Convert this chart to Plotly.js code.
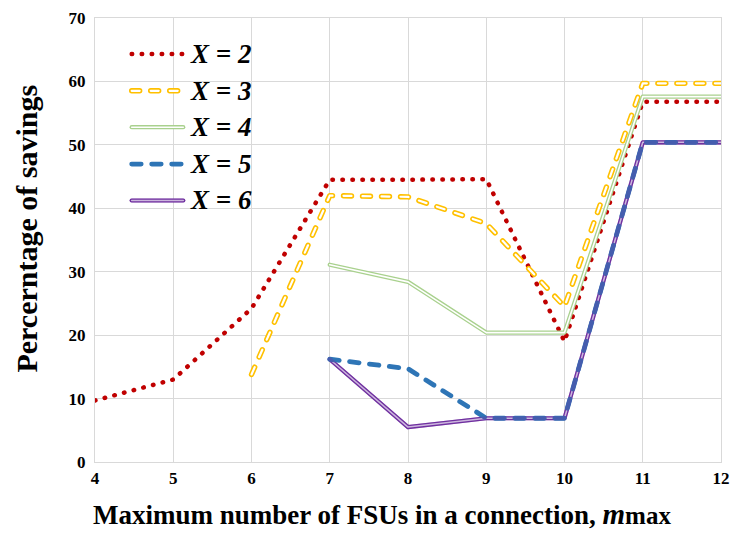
<!DOCTYPE html>
<html>
<head>
<meta charset="utf-8">
<script src="https://cdn.plot.ly/plotly-3.0.1.min.js"></script>
<style>
  html, body { margin: 0; padding: 0; background: #ffffff; }
  #chart { width: 734px; height: 533px; }
  /* rounded dash ends give the dotted / pill-shaped dash look */
  #chart .js-line, #chart .shapelayer path {
    stroke-linecap: round !important;
    stroke-linejoin: round !important;
  }
</style>
</head>
<body>
<div id="chart"></div>
<script>
// Maximum number of FSUs in a connection (x categories)
const mMax = [4, 5, 6, 7, 8, 9, 10, 11, 12];

// Percentage of savings for each X
const savingsX2 = [9.7, 13.0, 24.2, 44.5, 44.5, 44.6, 19.0, 56.8, 56.8];
const savingsX3 = [null, null, 13.8, 42.0, 41.8, 37.6, 24.5, 59.7, 59.7];
const savingsX4 = [null, null, null, 31.1, 28.4, 20.4, 20.4, 57.6, 57.6];
const savingsX5 = [null, null, null, 16.2, 14.7, 6.9, 6.9, 50.4, 50.4];
const savingsX6 = [null, null, null, 16.2, 5.5, 6.9, 6.9, 50.4, 50.4];

const seriesLabels = ['X = 2', 'X = 3', 'X = 4', 'X = 5', 'X = 6'];
const yTicks = [0, 10, 20, 30, 40, 50, 60, 70];

const SERIF = '"Liberation Serif", "Times New Roman", Times, serif';

const RED = '#C00000', YELLOW = '#FFC000', GREEN = '#A9D18E',
      BLUE = '#2E75B6', PURPLE = '#7030A0';

const DOT = '0.5px,9.5px';
const PILL = '8px,11px';
const DASH = '9.5px,10.5px';

function line(y, color, width, dash, opacity) {
  return {
    x: mMax, y: y, type: 'scatter', mode: 'lines',
    connectgaps: false, hoverinfo: 'skip', showlegend: false,
    opacity: opacity === undefined ? 1 : opacity,
    line: { color: color, width: width, dash: dash || 'solid' }
  };
}

// each style: list of [color, width, dash, opacity] layers, drawn bottom to top
const styles = [
  [[RED, 4.5, DOT]],
  [[YELLOW, 5.4, PILL], ['#ffffff', 2.2, PILL]],
  [[GREEN, 4.2, 'solid'], ['#ffffff', 1.6, 'solid']],
  [[BLUE, 4.8, DASH]],
  [[PURPLE, 4.2, 'solid'], ['#ffffff', 1.5, 'solid']]
];
const seriesData = [savingsX2, savingsX3, savingsX4, savingsX5, savingsX6];

const traces = [];
// X = 2, 3, 4
for (let i = 0; i < 3; i++) {
  styles[i].forEach(s => traces.push(line(seriesData[i], s[0], s[1], s[2])));
}
// X = 6 double line, the X = 5 dashes, then a purple tint over both
styles[4].forEach(s => traces.push(line(seriesData[4], s[0], s[1], s[2])));
styles[3].forEach(s => traces.push(line(seriesData[3], s[0], s[1], s[2])));
traces.push(line(seriesData[4], PURPLE, 4.2, 'solid', 0.35));

// hand-built legend: sample line shapes plus labels
const legendRowsY = [0.919, 0.836, 0.754, 0.671, 0.589];
const legendX0 = 0.0586, legendX1 = 0.141, legendTextX = 0.1485;
const shapes = [];
const annotations = [];
seriesLabels.forEach((lab, i) => {
  const layers = styles[i].slice();
  if (i === 4) layers.push([PURPLE, 4.2, 'solid', 0.35]);
  layers.forEach(s => shapes.push({
    type: 'line', xref: 'paper', yref: 'paper',
    x0: legendX0, x1: legendX1, y0: legendRowsY[i], y1: legendRowsY[i],
    opacity: s[3] === undefined ? 1 : s[3],
    line: { color: s[0], width: s[1], dash: s[2] }
  }));
  annotations.push({
    xref: 'paper', yref: 'paper', x: legendTextX, y: legendRowsY[i],
    xanchor: 'left', yanchor: 'middle', showarrow: false,
    text: '<b><i>' + lab + '</i></b>',
    font: { family: SERIF, size: 27, color: '#000000' }
  });
});

// axis titles
annotations.push({
  xref: 'paper', yref: 'paper', x: -0.0064, y: -0.118,
  xanchor: 'left', yanchor: 'middle', showarrow: false,
  text: '<b>Maximum number of FSUs in a connection, </b>' +
        '<b><i><span style="font-size:29px">m</span></i></b>' +
        '<b><span style="font-size:25px">max</span></b>',
  font: { family: SERIF, size: 27, color: '#000000' }
});
annotations.push({
  xref: 'paper', yref: 'paper', x: -0.11, y: 0.526,
  xanchor: 'center', yanchor: 'middle', showarrow: false, textangle: -90,
  text: '<b>Percerntage of savings</b>',
  font: { family: SERIF, size: 30, color: '#000000' }
});

const tickFont = { family: SERIF, size: 17, color: '#000000', weight: 'bold' };
const gridColor = '#d9d9d9';

const layout = {
  width: 734, height: 533,
  margin: { l: 95, r: 13, t: 18, b: 71, pad: 0 },
  paper_bgcolor: '#ffffff', plot_bgcolor: '#ffffff',
  showlegend: false,
  font: { family: SERIF, color: '#000000' },
  xaxis: {
    range: [4, 12], tickvals: mMax, ticktext: mMax.map(v => '<b>' + v + '</b>'),
    showgrid: true, gridcolor: gridColor, gridwidth: 1,
    zeroline: false, showline: true, linecolor: gridColor, linewidth: 1, mirror: true,
    ticks: 'outside', ticklen: 1, tickcolor: 'rgba(0,0,0,0)',
    tickfont: tickFont, fixedrange: true
  },
  yaxis: {
    range: [0, 70], tickvals: yTicks,
    ticktext: yTicks.map(v => '<b>' + v + '</b>'),
    showgrid: true, gridcolor: gridColor, gridwidth: 1,
    zeroline: false, showline: true, linecolor: gridColor, linewidth: 1, mirror: true,
    ticks: 'outside', ticklen: 5, tickcolor: 'rgba(0,0,0,0)',
    tickfont: tickFont, fixedrange: true
  },
  shapes: shapes,
  annotations: annotations
};

Plotly.newPlot('chart', traces, layout, { staticPlot: true, displayModeBar: false });
</script>
</body>
</html>
